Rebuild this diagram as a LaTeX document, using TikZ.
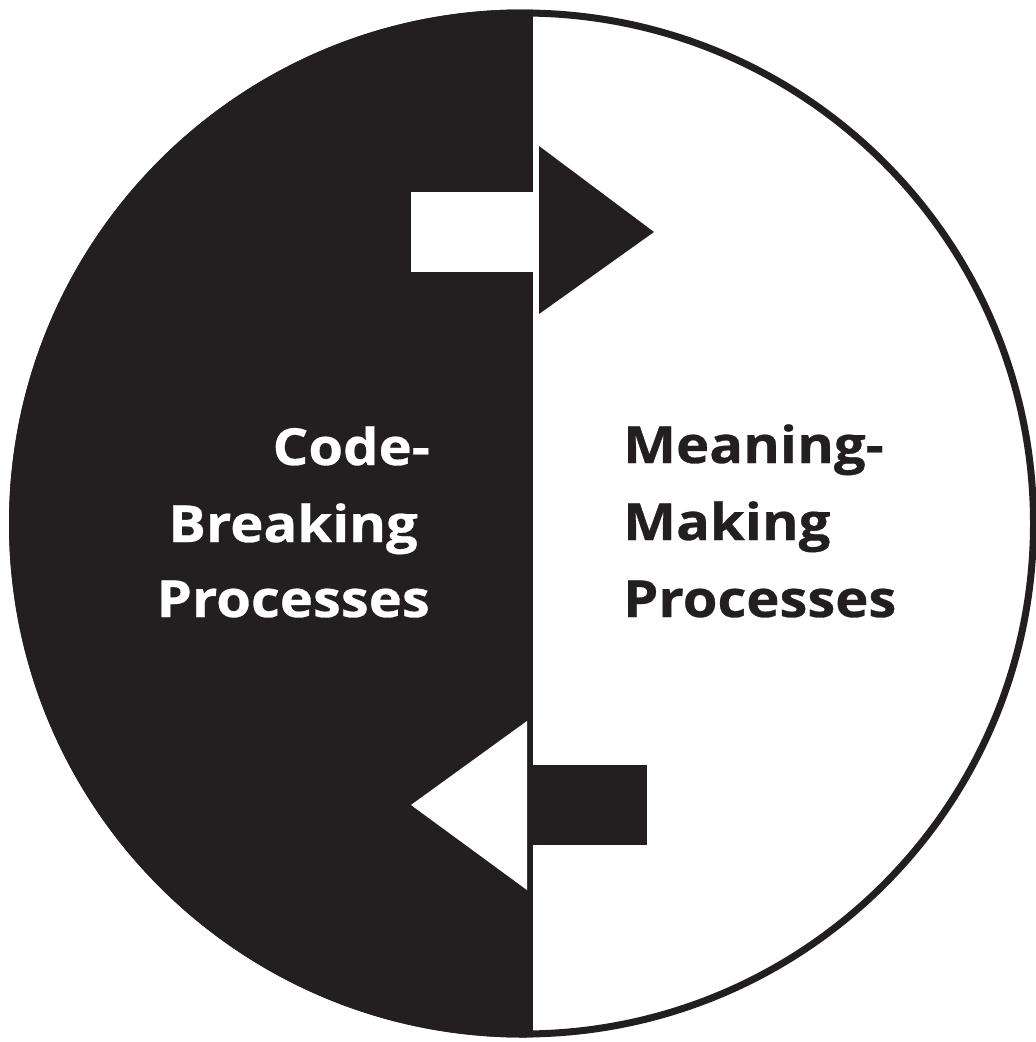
\documentclass[tikz,border=0pt]{standalone}
\usepackage{fontspec}
\setmainfont{Open Sans}
\newfontfamily\lblfont[FakeStretch=1.1, FakeBold=0.6]{Open Sans Bold}
\definecolor{ink}{HTML}{231F20}
\begin{document}
\begin{tikzpicture}[x=1pt,y=-1pt,
  lbl/.style={font=\lblfont\fontsize{51}{76}\selectfont, inner sep=0pt, anchor=base}]
\useasboundingbox (0,0) rectangle (1036,1042);
\fill[white] (0,0) rectangle (1036,1042);
% left black half
\begin{scope}
  \clip (523,523.5) circle (514);
  \fill[ink] (0,0) rectangle (533,1042);
\end{scope}
% outline
\draw[ink, line width=7] (523,523.5) circle (510.5);
% top arrow
\fill[white] (411,192) rectangle (533,272);
\fill[ink] (539,146) -- (654,232) -- (539,314) -- cycle;
% bottom arrow
\fill[white] (527,721) -- (411,805) -- (527,890) -- cycle;
\fill[ink] (533,765) rectangle (647,845);
% labels
\node[lbl, white, anchor=base east] (c1) at (430,465) {Code-};
\node[lbl, white, anchor=base east] (c2) at (418,542) {Breaking};
\node[lbl, white, anchor=base east] (c3) at (430,617) {Processes};
\node[lbl, ink, anchor=base west] (m1) at (623,463) {Meaning-};
\node[lbl, ink, anchor=base west] (m2) at (623,540) {Making};
\node[lbl, ink, anchor=base west] (m3) at (623,617) {Processes};
\end{tikzpicture}
\end{document}
